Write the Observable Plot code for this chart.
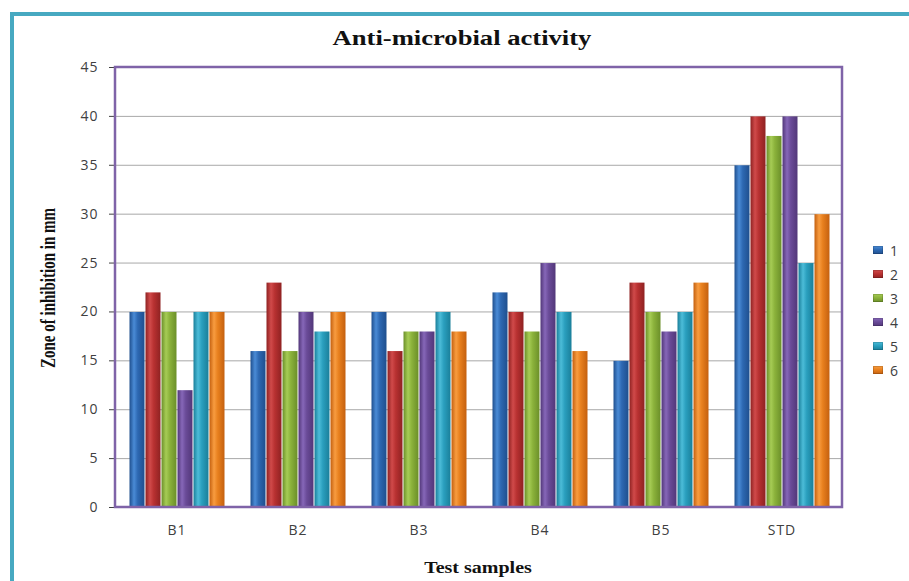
<!DOCTYPE html>
<html>
<head>
<meta charset="utf-8">
<script src="https://cdn.jsdelivr.net/npm/d3@7"></script>
<script src="https://cdn.jsdelivr.net/npm/@observablehq/plot@0.6"></script>
<style>
  html, body { margin: 0; padding: 0; background: #fff; }
  #wrap { position: relative; width: 909px; height: 581px; overflow: hidden; background: #fff; }
  #border { position: absolute; left: 10px; top: 12px; width: 960px; height: 640px;
            border-top: 4px solid #47a9c1; border-left: 4px solid #47a9c1; box-sizing: border-box; }
  #chart { position: absolute; left: 0; top: 0; }
  .title { position: absolute; white-space: nowrap; font-family: "Liberation Serif", "Times New Roman", serif;
           font-weight: bold; color: #111; line-height: 1; }
  #legend { position: absolute; left: 873px; top: 0; font-family: "Open Sans", sans-serif; font-size: 14px;
            color: #404040; letter-spacing: 1px; }
  .item { position: absolute; left: 0; height: 14px; display: flex; align-items: center; white-space: nowrap; }
  .sw { width: 10px; height: 8px; margin-right: 7px; box-shadow: inset 0 0 0 1px rgba(0,0,0,0.15); }
  #chart, #chart g, #chart text { font-size: 14px !important; font-family: "Open Sans", sans-serif !important; }
  #chart text { letter-spacing: 1px; }
  svg [aria-label="y-axis tick"] { stroke: #9a9a9a; }
</style>
</head>
<body>
<div id="wrap">
  <div id="border"></div>
</div>
<script>
// ---- data ----
const groups = ["B1", "B2", "B3", "B4", "B5", "STD"];
const series = ["1", "2", "3", "4", "5", "6"];
const s1 = [20, 16, 20, 22, 15, 35];
const s2 = [22, 23, 16, 20, 23, 40];
const s3 = [20, 16, 18, 18, 20, 38];
const s4 = [12, 20, 18, 25, 18, 40];
const s5 = [20, 18, 20, 20, 20, 25];
const s6 = [20, 20, 18, 16, 23, 30];
const yTicks = [0, 5, 10, 15, 20, 25, 30, 35, 40, 45];
const titleText = "Anti-microbial activity";
const xTitle = "Test samples";
const yTitle = "Zone of inhibition in mm";

// ---- styles ----
const darkColors  = ["#1f4f8e", "#8f2222", "#6b8f29", "#523779", "#1a7f9a", "#c4600f"];
const midColors   = ["#2d68b2", "#b83131", "#8bb23b", "#6a4b98", "#2a9fbe", "#e8801e"];
const lightColors = ["#4a8bd6", "#d04a4a", "#a6cc55", "#8667b8", "#4cbcd8", "#f89c40"];

const allSeries = [s1, s2, s3, s4, s5, s6];
const table = [];
groups.forEach((g, gi) => {
  series.forEach((s, si) => {
    table.push({group: g, series: s, value: allSeries[si][gi]});
  });
});

// gradient defs
const NS = "http://www.w3.org/2000/svg";
const defsSvg = document.createElementNS(NS, "svg");
defsSvg.setAttribute("width", 0);
defsSvg.setAttribute("height", 0);
defsSvg.style.position = "absolute";
const defs = document.createElementNS(NS, "defs");
series.forEach((s, i) => {
  const lg = document.createElementNS(NS, "linearGradient");
  lg.setAttribute("id", "grad" + i);
  lg.setAttribute("x1", "0"); lg.setAttribute("x2", "1");
  lg.setAttribute("y1", "0"); lg.setAttribute("y2", "0");
  [[0, darkColors[i]], [0.3, lightColors[i]], [0.55, midColors[i]], [1, darkColors[i]]].forEach(([o, c]) => {
    const st = document.createElementNS(NS, "stop");
    st.setAttribute("offset", o);
    st.setAttribute("stop-color", c);
    lg.appendChild(st);
  });
  defs.appendChild(lg);
});
defsSvg.appendChild(defs);
document.getElementById("wrap").appendChild(defsSvg);

const W = 909, H = 581, mL = 115, mR = 67, mT = 67, mB = 74;

const chart = Plot.plot({
  width: W,
  height: H,
  marginLeft: mL,
  marginRight: mR,
  marginTop: mT,
  marginBottom: mB,
  style: {background: "transparent", color: "#404040"},
  fx: {domain: groups, padding: 0, label: null, tickSize: 0, tickPadding: 18},
  x: {domain: series, paddingInner: 0, paddingOuter: 0.7, axis: null},
  y: {domain: [0, 45], ticks: yTicks, tickSize: 7, tickPadding: 11, label: null},
  color: {domain: series, range: series.map((s, i) => `url(#grad${i})`)},
  marks: [
    Plot.gridY(yTicks.filter(t => t > 0 && t < 45), {stroke: "#a8a8a8", strokeOpacity: 1, strokeWidth: 1}),
    Plot.barY(table, {fx: "group", x: "series", y: "value", fill: "series", inset: 0.5})
  ]
});
chart.id = "chart";
document.getElementById("wrap").appendChild(chart);

// plot-area frame
const ys = chart.scale("y");
d3.select(chart).append("rect")
  .attr("x", mL).attr("y", ys.apply(45))
  .attr("width", W - mL - mR).attr("height", ys.apply(0) - ys.apply(45))
  .attr("fill", "none").attr("stroke", "#7f63a8").attr("stroke-width", 2.5);

// titles
const wrap = d3.select("#wrap");
wrap.append("div").attr("class", "title").text(titleText)
  .style("font-size", "20px").style("left", "462px").style("top", "28px")
  .style("transform", "translate(-50%,0) scaleX(1.33)");
wrap.append("div").attr("class", "title").text(xTitle)
  .style("font-size", "16px").style("left", "478px").style("top", "560px")
  .style("transform", "translate(-50%,0) scaleX(1.25)");
wrap.append("div").attr("class", "title").text(yTitle)
  .style("font-size", "15px").style("left", "49px").style("top", "288px")
  .style("transform", "translate(-50%,-50%) scaleX(1.35) rotate(-90deg)");

// legend
const legend = wrap.append("div").attr("id", "legend");
series.forEach((s, i) => {
  const it = legend.append("div").attr("class", "item").style("top", (243 + i * 24) + "px");
  it.append("div").attr("class", "sw")
    .style("background", `linear-gradient(to bottom, ${lightColors[i]}, ${midColors[i]} 50%, ${darkColors[i]})`);
  it.append("span").text(s);
});
</script>
</body>
</html>
